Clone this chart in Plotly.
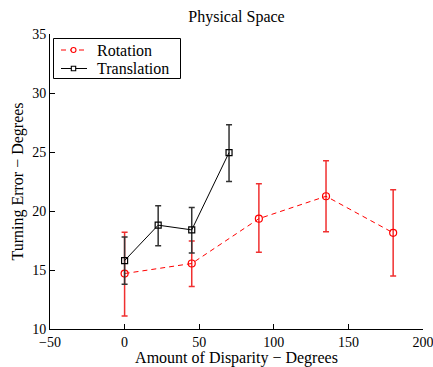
import plotly.graph_objects as go

# Data
rot_x = [0, 45, 90, 135, 180]
rot_y = [14.7, 15.55, 19.35, 21.25, 18.15]
rot_hi = [18.2, 17.45, 22.3, 24.25, 21.8]
rot_lo = [11.1, 13.6, 16.5, 18.25, 14.5]

tr_x = [0, 22.5, 45, 70]
tr_y = [15.8, 18.8, 18.4, 24.95]
tr_hi = [17.8, 20.45, 20.3, 27.3]
tr_lo = [13.8, 17.05, 16.45, 22.5]

series_names = ["Rotation", "Translation"]
x_ticks = [-50, 0, 50, 100, 150, 200]
x_labels = ["\u221250", "0", "50", "100", "150", "200"]
y_ticks = [10, 15, 20, 25, 30, 35]

FONT = "Liberation Serif, Times New Roman, serif"
W, H = 433, 367
ML, MR, MT, MB = 50, 10, 34, 38
PW, PH = W - ML - MR, H - MT - MB


def px(X):
    return (X - ML) / PW


def py(Y):
    return (H - MB - Y) / PH


RED = "#ff0000"
BLACK = "#000000"

fig = go.Figure()
fig.add_trace(go.Scatter(
    x=rot_x, y=rot_y, name=series_names[0], mode="lines+markers",
    line=dict(color=RED, width=1, dash="5px,4px"),
    marker=dict(symbol="circle-open", size=7, color=RED, line=dict(width=1.2)),
    error_y=dict(type="data", symmetric=False,
                 array=[h - y for h, y in zip(rot_hi, rot_y)],
                 arrayminus=[y - l for l, y in zip(rot_lo, rot_y)],
                 color="#f03030", thickness=1.5, width=3),
))
fig.add_trace(go.Scatter(
    x=tr_x, y=tr_y, name=series_names[1], mode="lines+markers",
    line=dict(color=BLACK, width=1),
    marker=dict(symbol="square-open", size=6, color=BLACK, line=dict(width=1.2)),
    error_y=dict(type="data", symmetric=False,
                 array=[h - y for h, y in zip(tr_hi, tr_y)],
                 arrayminus=[y - l for l, y in zip(tr_lo, tr_y)],
                 color="#333333", thickness=1.5, width=3),
))

# Manual legend (MATLAB-style compact box)
shapes = [dict(type="rect", xref="paper", yref="paper",
               x0=px(53.5), x1=px(180.5), y0=py(38.5), y1=py(78.5),
               line=dict(color="black", width=1), fillcolor="white", layer="above")]
annotations = []
rows = [(series_names[0], RED, "5px,4px", "circle", 50),
        (series_names[1], BLACK, "solid", "rect", 68.5)]
for name, col, dash, mk, yc in rows:
    shapes.append(dict(type="line", xref="paper", yref="paper",
                       x0=px(61), x1=px(87), y0=py(yc), y1=py(yc),
                       line=dict(color=col, width=1, dash=dash), layer="above"))
    r = 2.5 if mk == "circle" else 2.2
    shapes.append(dict(type=mk, xref="paper", yref="paper",
                       xsizemode="pixel", ysizemode="pixel",
                       xanchor=px(73.5), yanchor=py(yc),
                       x0=-r, x1=r, y0=-r, y1=r,
                       line=dict(color=col, width=1.1), fillcolor="white", layer="above"))
    annotations.append(dict(text=name, xref="paper", yref="paper",
                            x=px(95), y=py(yc), xanchor="left", yanchor="middle",
                            showarrow=False, font=dict(family=FONT, size=16, color="black")))

fig.update_layout(
    width=W, height=H,
    margin=dict(l=ML, r=MR, t=MT, b=MB, autoexpand=False),
    paper_bgcolor="white", plot_bgcolor="white",
    font=dict(family=FONT, size=14, color="black"),
    title=dict(text="Physical Space", x=0.5, xref="paper", y=1 - 16 / H,
               yref="container", xanchor="center", yanchor="middle",
               font=dict(family=FONT, size=16, color="black")),
    showlegend=False,
    shapes=shapes,
    annotations=annotations,
    xaxis=dict(range=[-50, 200], tickvals=x_ticks, ticktext=x_labels,
               ticks="inside", ticklen=5, tickcolor="black",
               showline=True, linecolor="black", linewidth=1, mirror=False,
               showgrid=False, zeroline=False, ticklabeloverflow="allow",
               tickfont=dict(family=FONT, size=14),
               title=dict(text="Amount of Disparity \u2212 Degrees", standoff=3,
                          font=dict(family=FONT, size=16))),
    yaxis=dict(range=[10, 35], tickvals=y_ticks,
               ticks="inside", ticklen=5, tickcolor="black",
               showline=True, linecolor="black", linewidth=1, mirror=False,
               showgrid=False, zeroline=False, ticklabeloverflow="allow",
               tickfont=dict(family=FONT, size=14),
               title=dict(text="Turning Error \u2212 Degrees", standoff=4,
                          font=dict(family=FONT, size=16))),
)

fig.write_html("out.html")
